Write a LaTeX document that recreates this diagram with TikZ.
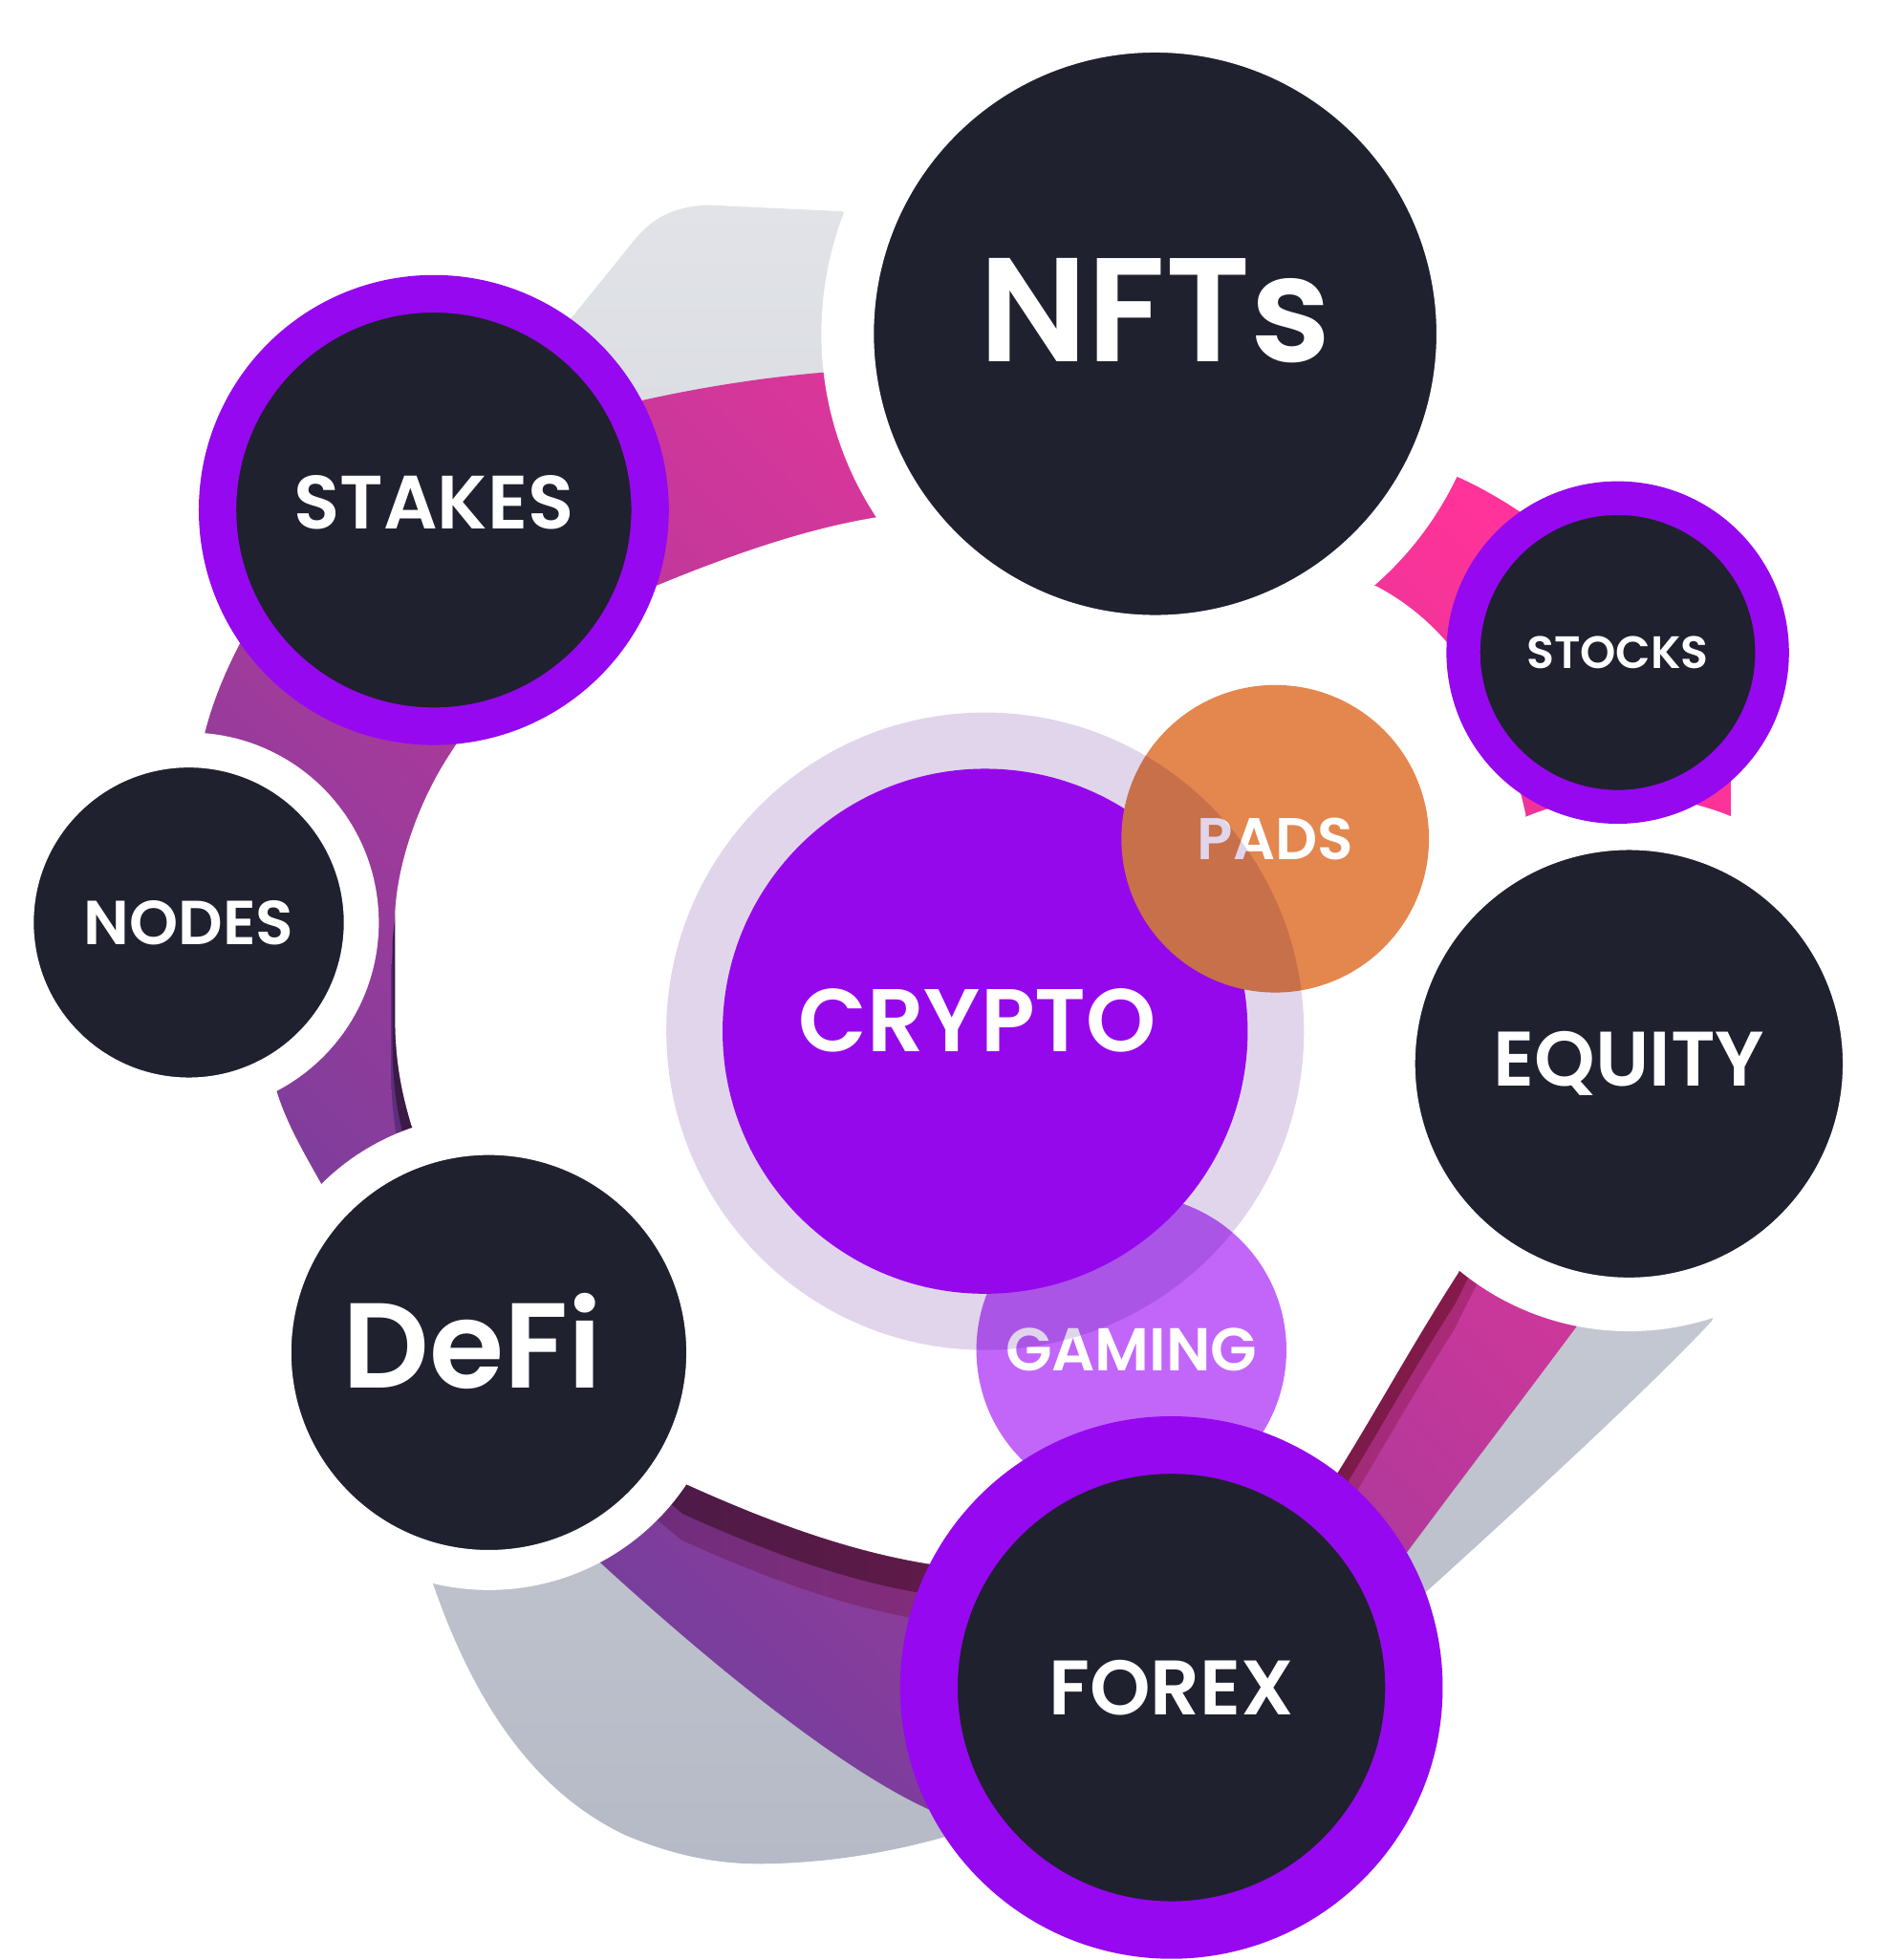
\documentclass[tikz,border=0pt]{standalone}
\usepackage{fontspec}
\setmainfont{Poppins}[UprightFont=* SemiBold, BoldFont=* Bold]

\definecolor{navy}{HTML}{20212F}
\definecolor{vivid}{HTML}{9608F0}
\definecolor{cryptobase}{RGB}{170,10,255}
\definecolor{lavender}{HTML}{E1D5EC}
\definecolor{padsorange}{HTML}{E3874F}
\definecolor{gamingviolet}{HTML}{C266FA}
\definecolor{ringpink}{HTML}{FF3399}
\definecolor{ringviolet}{HTML}{6A3F9C}
\definecolor{graytop}{HTML}{E1E3E8}
\definecolor{graybot}{HTML}{B5BAC6}
\definecolor{wallleft}{HTML}{3A1A46}
\definecolor{wallright}{HTML}{8A1A4A}
\definecolor{ledgeleft}{HTML}{5D2E7D}
\definecolor{ledgeright}{HTML}{B02A78}

\newcommand{\pxu}{0.013079cm}
% ring outlines (hidden stretches are plain lines)
\newcommand{\ringshadow}{(459,252) -- (505,195) .. controls (520,176) and (535,166) .. (565,164) -- (673,169) -- (1100,330) -- (1280,540) -- (1440,900) -- (1369,1057) .. controls (1320,1110) and (1200,1220) .. (1139,1275) -- (940,1430) -- (754,1470) .. controls (700,1485) and (650,1491) .. (606,1491) .. controls (575,1491) and (540,1485) .. (500,1468) .. controls (420,1430) and (375,1350) .. (346,1266) -- (300,1000) -- (230,700) -- (300,420) -- cycle}
\newcommand{\ringouter}{(515,320) .. controls (560,310) and (610,302) .. (658,298) -- (900,290) -- (1167,382) .. controls (1250,420) and (1330,500) .. (1384,620) -- (1420,850) -- (1259,1064) .. controls (1215,1123) and (1170,1182) .. (1126,1241) -- (940,1400) -- (744,1448) .. controls (660,1410) and (540,1305) .. (479,1249) -- (340,1080) -- (257,947) .. controls (243,922) and (230,900) .. (222,875) -- (160,660) .. controls (152,620) and (163,565) .. (200,500) -- (300,380) -- cycle}
\newcommand{\ringhole}{(362,600) .. controls (400,540) and (460,495) .. (524,469) .. controls (580,446) and (640,424) .. (700,414) -- (900,400) -- (1101,469) .. controls (1160,500) and (1200,560) .. (1220,650) -- (1250,850) -- (1166,1019) .. controls (1130,1075) and (1100,1130) .. (1070,1178) -- (900,1265) -- (742,1251) .. controls (675,1240) and (610,1215) .. (548,1187) -- (420,1080) -- (329,900) .. controls (320,870) and (316,845) .. (316,813) -- (316,730) .. controls (318,690) and (335,640) .. (362,600) -- cycle}

\begin{document}
\begin{tikzpicture}[x=\pxu, y=-\pxu,
  bubble/.style={circle, inner sep=0pt, minimum size=2*#1*\pxu, text=white},
  darkbub/.style={bubble=#1, fill=navy},
  halo/.style={draw=white, line width=#1*\pxu},
  rim/.style={draw=vivid, line width=#1*\pxu},
  lbl/.style={font=\fontsize{#1}{#1}\selectfont}]
\useasboundingbox (0,0) rectangle (1520,1568);

% the tilted ring behind
\begin{scope}
\clip (0,0) rectangle (1384,1568);
\shade[top color=graytop, bottom color=graybot] \ringshadow;
\shade[top color=ringpink, bottom color=ringviolet, shading angle=-45] \ringouter;
\begin{scope}[shift={(-3,45)}]
\shade[left color=ledgeleft, right color=ledgeright] \ringhole;
\end{scope}
\begin{scope}[shift={(-2,24)}]
\shade[left color=wallleft, right color=wallright] \ringhole;
\end{scope}
\fill[white] \ringhole;
\end{scope}

% outer bubbles
\node[darkbub=246, halo=42, lbl=44, text depth=0.5cm] (nfts) at (924,267) {NFTs};
\node[darkbub=138, halo=28, lbl=18.5] (nodes) at (151,738) {NODES};
\node[darkbub=174, halo=32] (defi) at (391,1082) {};
\node[lbl=36, text=white, text depth=0.24cm] (defitext) at ([xshift=-0.17cm]defi.center) {DeFi};
\node[darkbub=192.5, halo=43, lbl=23] (equity) at (1303,851) {EQUITY};
\node[darkbub=173, rim=30, lbl=22.5, text depth=0.16cm] (stakes) at (347,408) {STAKES};
\node[darkbub=123.5, rim=27, lbl=13.5] (stocks) at (1294,522) {STOCKS};

% centre cluster
\node[bubble=124, fill=gamingviolet, lbl=18] (gaming) at (905,1080) {GAMING};
\node[bubble=210, fill=cryptobase] (crypto) at (788,825) {};
\node[bubble=123, fill=padsorange, lbl=17.5] (pads) at (1020,671) {PADS};
\begin{scope}[blend mode=multiply]
\fill[lavender] (crypto.center) circle (255);
\end{scope}
\node[lbl=26.5, text=white, text depth=0.24cm] (cryptotext) at ([xshift=-0.08cm]crypto.center) {CRYPTO};

\node[darkbub=194, rim=46, lbl=23] (forex) at (937,1350) {FOREX};
\end{tikzpicture}
\end{document}
